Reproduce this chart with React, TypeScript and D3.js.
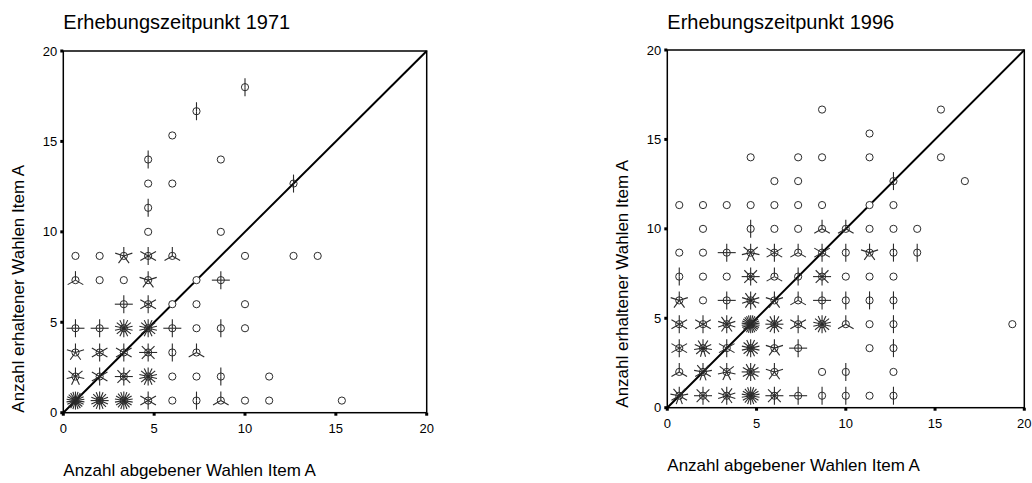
import React, { useRef, useEffect } from 'react';
import * as d3 from 'd3';

// [abgegebene Wahlen, erhaltene Wahlen, Anzahl Fälle]
type Flower = [number, number, number];

const titles = ['Erhebungszeitpunkt 1971', 'Erhebungszeitpunkt 1996'];
const xAxisTitle = 'Anzahl abgebener Wahlen Item A';
const yAxisTitle = 'Anzahl erhaltener Wahlen Item A';
const tickValues = [0, 5, 10, 15, 20];
const axisDomain: [number, number] = [0, 20];

const flowers1971: Flower[] = [
  [10, 18, 2],
  [7.33, 16.67, 2],
  [6, 15.33, 1],
  [4.67, 14, 2], [8.67, 14, 1],
  [4.67, 12.67, 1], [6, 12.67, 1], [12.67, 12.67, 2],
  [4.67, 11.33, 2],
  [4.67, 10, 1], [8.67, 10, 1],
  [0.67, 8.67, 1], [2, 8.67, 1], [3.33, 8.67, 5], [4.67, 8.67, 6], [6, 8.67, 3], [10, 8.67, 1], [12.67, 8.67, 1], [14, 8.67, 1],
  [0.67, 7.33, 3], [2, 7.33, 1], [3.33, 7.33, 1], [4.67, 7.33, 5], [7.33, 7.33, 1], [8.67, 7.33, 4],
  [3.33, 6, 4], [4.67, 6, 6], [6, 6, 1], [7.33, 6, 1], [10, 6, 1],
  [0.67, 4.67, 4], [2, 4.67, 4], [3.33, 4.67, 14], [4.67, 4.67, 14], [6, 4.67, 4], [7.33, 4.67, 1], [8.67, 4.67, 2], [10, 4.67, 1],
  [0.67, 3.33, 5], [2, 3.33, 6], [3.33, 3.33, 6], [4.67, 3.33, 8], [6, 3.33, 2], [7.33, 3.33, 3],
  [0.67, 2, 7], [2, 2, 6], [3.33, 2, 8], [4.67, 2, 14], [6, 2, 1], [7.33, 2, 1], [8.67, 2, 2], [11.33, 2, 1],
  [0.67, 0.67, 22], [2, 0.67, 16], [3.33, 0.67, 18], [4.67, 0.67, 6], [6, 0.67, 1], [7.33, 0.67, 2], [8.67, 0.67, 3], [10, 0.67, 1], [11.33, 0.67, 1], [15.33, 0.67, 1],
];

const flowers1996: Flower[] = [
  [8.67, 16.67, 1], [15.33, 16.67, 1],
  [11.33, 15.33, 1],
  [4.67, 14, 1], [7.33, 14, 1], [8.67, 14, 1], [11.33, 14, 1], [15.33, 14, 1],
  [6, 12.67, 1], [7.33, 12.67, 1], [12.67, 12.67, 2], [16.67, 12.67, 1],
  [0.67, 11.33, 1], [2, 11.33, 1], [3.33, 11.33, 1], [4.67, 11.33, 1], [6, 11.33, 1], [7.33, 11.33, 1], [8.67, 11.33, 1], [11.33, 11.33, 1], [12.67, 11.33, 1],
  [2, 10, 1], [4.67, 10, 2], [6, 10, 1], [7.33, 10, 1], [8.67, 10, 3], [10, 10, 3], [11.33, 10, 1], [12.67, 10, 1], [14, 10, 1],
  [0.67, 8.67, 1], [2, 8.67, 1], [3.33, 8.67, 4], [4.67, 8.67, 7], [6, 8.67, 6], [7.33, 8.67, 3], [8.67, 8.67, 6], [10, 8.67, 2], [11.33, 8.67, 5], [12.67, 8.67, 2], [14, 8.67, 2],
  [0.67, 7.33, 2], [2, 7.33, 1], [3.33, 7.33, 1], [4.67, 7.33, 8], [6, 7.33, 3], [7.33, 7.33, 2], [8.67, 7.33, 8], [10, 7.33, 1], [11.33, 7.33, 1], [12.67, 7.33, 1],
  [0.67, 6, 5], [2, 6, 1], [3.33, 6, 4], [4.67, 6, 10], [6, 6, 5], [7.33, 6, 3], [8.67, 6, 4], [10, 6, 2], [11.33, 6, 2], [12.67, 6, 2],
  [0.67, 4.67, 6], [2, 4.67, 6], [3.33, 4.67, 10], [4.67, 4.67, 26], [6, 4.67, 12], [7.33, 4.67, 6], [8.67, 4.67, 14], [10, 4.67, 3], [11.33, 4.67, 1], [12.67, 4.67, 2], [19.33, 4.67, 1],
  [0.67, 3.33, 6], [2, 3.33, 11], [3.33, 3.33, 6], [4.67, 3.33, 14], [6, 3.33, 5], [7.33, 3.33, 4], [11.33, 3.33, 1], [12.67, 3.33, 2],
  [0.67, 2, 3], [2, 2, 9], [3.33, 2, 7], [4.67, 2, 12], [6, 2, 5], [8.67, 2, 1], [10, 2, 2], [12.67, 2, 1],
  [0.67, 0.67, 9], [2, 0.67, 8], [3.33, 0.67, 10], [4.67, 0.67, 18], [6, 0.67, 8], [7.33, 0.67, 4], [8.67, 0.67, 2], [10, 0.67, 2], [11.33, 0.67, 1], [12.67, 0.67, 2],
];

const WIDTH = 1032;
const HEIGHT = 483;
const FONT = '"Liberation Sans", Arial, sans-serif';
const INK = '#2b2b2b';

interface PanelBox {
  left: number;
  right: number;
  top: number;
  bottom: number;
}

const panels: { title: string; data: Flower[]; box: PanelBox }[] = [
  { title: titles[0], data: flowers1971, box: { left: 63.3, right: 426.7, top: 51, bottom: 412.7 } },
  { title: titles[1], data: flowers1996, box: { left: 667.3, right: 1024.3, top: 50, bottom: 407.7 } },
];

const App: React.FC = () => {
  const svgRef = useRef<SVGSVGElement>(null);

  useEffect(() => {
    if (!svgRef.current) return;
    const svg = d3.select(svgRef.current);
    svg.selectAll('*').remove();

    svg.append('rect')
      .attr('width', WIDTH)
      .attr('height', HEIGHT)
      .attr('fill', 'white');

    panels.forEach(({ title, data, box }) => {
      const x = d3.scaleLinear().domain(axisDomain).range([box.left, box.right]);
      const y = d3.scaleLinear().domain(axisDomain).range([box.bottom, box.top]);
      const g = svg.append('g');

      // Title, left aligned with the plot frame
      g.append('text')
        .attr('x', box.left)
        .attr('y', 29)
        .style('font-family', FONT)
        .style('font-size', '20px')
        .style('fill', '#000')
        .text(title);

      // Frame
      g.append('rect')
        .attr('x', box.left)
        .attr('y', box.top)
        .attr('width', box.right - box.left)
        .attr('height', box.bottom - box.top)
        .attr('fill', 'none')
        .attr('stroke', '#000')
        .attr('stroke-width', 1.5);

      // Tick marks as small squares outside the frame
      g.selectAll('.xtick')
        .data(tickValues)
        .enter()
        .append('rect')
        .attr('x', d => x(d) - 1.5)
        .attr('y', box.bottom)
        .attr('width', 3)
        .attr('height', 3)
        .attr('fill', '#000');

      g.selectAll('.ytick')
        .data(tickValues)
        .enter()
        .append('rect')
        .attr('x', box.left - 3)
        .attr('y', d => y(d) - 1.5)
        .attr('width', 3)
        .attr('height', 3)
        .attr('fill', '#000');

      g.selectAll('.xlabel')
        .data(tickValues)
        .enter()
        .append('text')
        .attr('x', d => x(d))
        .attr('y', box.bottom + 20)
        .attr('text-anchor', 'middle')
        .style('font-family', FONT)
        .style('font-size', '13px')
        .text(d => d);

      g.selectAll('.ylabel')
        .data(tickValues)
        .enter()
        .append('text')
        .attr('x', box.left - 6)
        .attr('y', d => y(d) + 4.5)
        .attr('text-anchor', 'end')
        .style('font-family', FONT)
        .style('font-size', '13px')
        .text(d => d);

      // Axis titles
      g.append('text')
        .attr('x', box.left)
        .attr('y', box.bottom + 63)
        .style('font-family', FONT)
        .style('font-size', '17px')
        .text(xAxisTitle);

      g.append('text')
        .attr('transform', `translate(${box.left - 39}, ${box.bottom}) rotate(-90)`)
        .style('font-family', FONT)
        .style('font-size', '17px')
        .text(yAxisTitle);

      // Diagonal reference line
      g.append('line')
        .attr('x1', x(0))
        .attr('y1', y(0))
        .attr('x2', x(20))
        .attr('y2', y(20))
        .attr('stroke', '#000')
        .attr('stroke-width', 2);

      // Sunflowers: one petal per case, one up and the rest spaced evenly
      const petalLen = 9;
      const flowers = g.selectAll('.flower')
        .data(data)
        .enter()
        .append('g')
        .attr('class', 'flower')
        .attr('transform', d => `translate(${x(d[0])}, ${y(d[1])})`);

      flowers.each(function (d) {
        const n = d[2];
        const fg = d3.select(this);
        if (n > 1) {
          d3.range(n).forEach(k => {
            const a = -Math.PI / 2 + (k * 2 * Math.PI) / n;
            fg.append('line')
              .attr('x1', 0)
              .attr('y1', 0)
              .attr('x2', Math.cos(a) * petalLen)
              .attr('y2', Math.sin(a) * petalLen)
              .attr('stroke', INK)
              .attr('stroke-width', 1.1);
          });
        }
      });

      flowers.append('circle')
        .attr('r', 3.6)
        .attr('fill', d => (d[2] > 1 ? 'none' : 'white'))
        .attr('stroke', INK)
        .attr('stroke-width', 1);
    });
  }, []);

  return (
    <div style={{ position: 'absolute', left: 0, top: 0 }}>
      <svg ref={svgRef} width={WIDTH} height={HEIGHT} style={{ display: 'block' }} />
    </div>
  );
};

export default App;
